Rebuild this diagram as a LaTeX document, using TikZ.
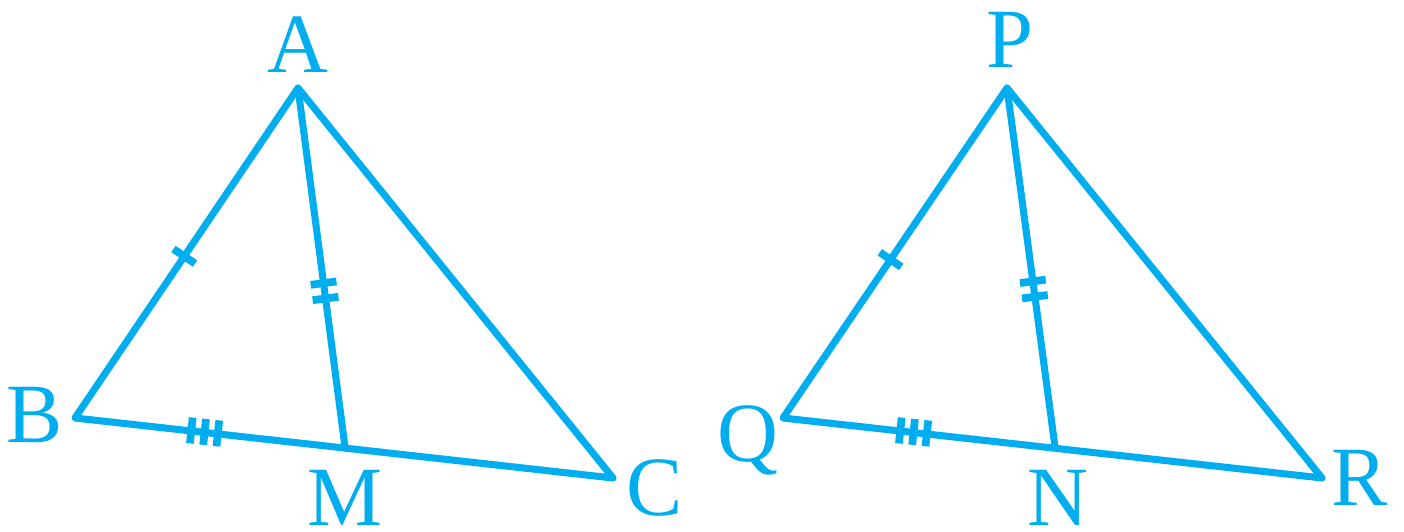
\documentclass[tikz,border=0pt]{standalone}
\usepackage{fontspec}
\setmainfont{Liberation Serif}
\definecolor{xanh}{RGB}{0,174,239}
\tikzset{
	canh/.style={xanh, line width=2pt},
	nhan/.style={text=xanh, inner sep=0pt, font=\fontsize{24}{28}\selectfont},
	vach/.style={sloped, inner sep=0pt, text=xanh}
}
\newcommand{\vmot}{\rule[-0.13cm]{2.2pt}{0.26cm}}
\newcommand{\vhai}{\vmot\hspace{2.2pt}\vmot}
\newcommand{\vba}{\vmot\hspace{1.6pt}\vmot\hspace{1.6pt}\vmot}
\begin{document}
\begin{tikzpicture}[line join=round, line cap=round]
			\useasboundingbox (0,0) rectangle (14.04,5.32);
			% Tam giác ABC
			\coordinate (A) at (2.98,4.44);
			\coordinate (B) at (0.75,1.14);
			\coordinate (C) at (6.13,0.54);
			\coordinate (M) at (3.45,0.85);
			\draw[canh] (A)--(B)--(C)--cycle;
			\draw[canh] (A)--(M);
			\path (B)--(A) node[vach,pos=0.49]{\vmot};
			\path (A)--(M) node[vach,pos=0.565]{\vhai};
			\path (B)--(M) node[vach,pos=0.48]{\vba};
			\node[nhan] (nA) at (2.98,4.87) {A};
			\node[nhan] (nB) at (0.35,1.17) {B};
			\node[nhan] (nM) at (3.45,0.34) {M};
			\node[nhan] (nC) at (6.55,0.44) {C};
			% Tam giác PQR
			\coordinate (P) at (10.07,4.44);
			\coordinate (Q) at (7.83,1.14);
			\coordinate (R) at (13.22,0.54);
			\coordinate (N) at (10.55,0.85);
			\draw[canh] (P)--(Q)--(R)--cycle;
			\draw[canh] (P)--(N);
			\path (Q)--(P) node[vach,pos=0.48]{\vmot};
			\path (P)--(N) node[vach,pos=0.56]{\vhai};
			\path (Q)--(N) node[vach,pos=0.48]{\vba};
			\node[nhan] (nP) at (10.10,4.92) {P};
			\node[nhan] (nQ) at (7.48,0.92) {Q};
			\node[nhan] (nN) at (10.58,0.34) {N};
			\node[nhan] (nR) at (13.60,0.54) {R};
		\end{tikzpicture}
\end{document}
